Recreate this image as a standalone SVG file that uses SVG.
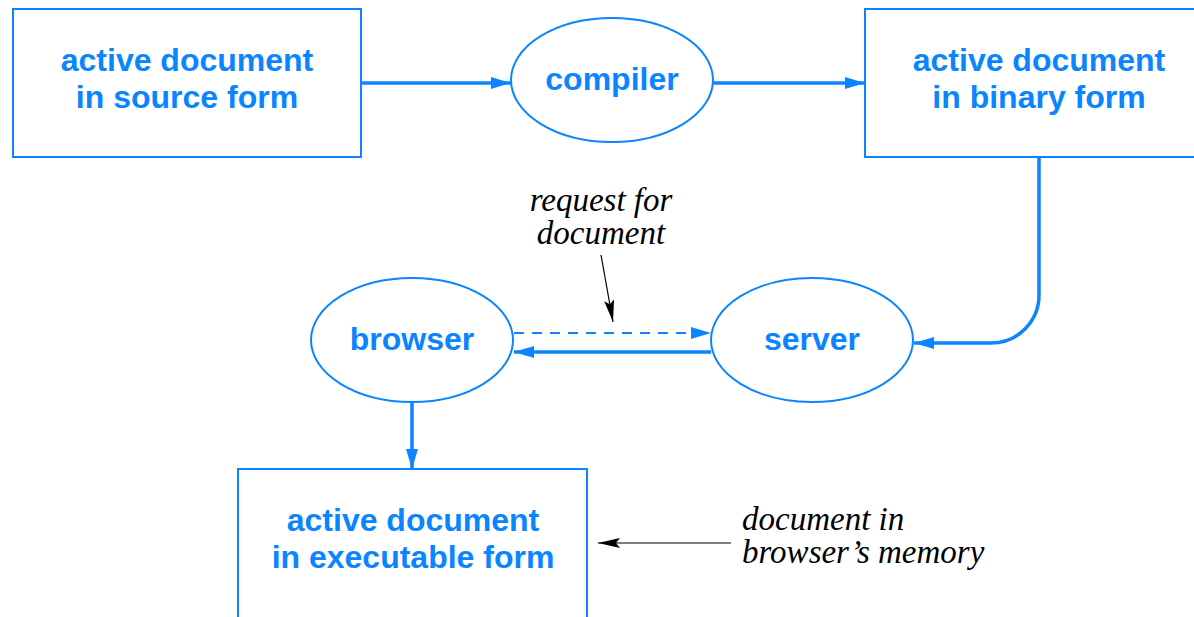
<svg xmlns="http://www.w3.org/2000/svg" width="1194" height="617" viewBox="0 0 1194 617">
<style>
.box{fill:none;stroke:#0a84ff;stroke-width:2}
.lbl{font-family:"Liberation Sans",Arial,sans-serif;font-weight:bold;font-size:32px;fill:#0a84ff;text-anchor:middle}
.note{font-family:"Liberation Serif","Times New Roman",serif;font-style:italic;font-size:33px;fill:#000}
.conn{fill:none;stroke:#0a84ff;stroke-width:3.5}
.dash{fill:none;stroke:#0a84ff;stroke-width:2;stroke-dasharray:10 8}
.thin{fill:none;stroke:#000;stroke-width:1.2}
</style>
<defs>
<marker id="ah" markerWidth="20" markerHeight="12" refX="20" refY="6" orient="auto" markerUnits="userSpaceOnUse"><path d="M0,0 L20,6 L0,12 Z" fill="#0a84ff"/></marker>
<marker id="ahk" markerWidth="22" markerHeight="10" refX="22" refY="5" orient="auto" markerUnits="userSpaceOnUse"><path d="M0,0 L22,5 L0,10 L4,5 Z" fill="#000"/></marker>
</defs>
<g id="source"><rect class="box" x="13" y="9" width="348" height="148"/><text class="lbl" x="187" y="71">active document</text><text class="lbl" x="187" y="108">in source form</text></g>
<g id="compiler"><ellipse class="box" cx="612" cy="80" rx="101" ry="62"/><text class="lbl" x="612" y="90">compiler</text></g>
<g id="binary"><rect class="box" x="865" y="9" width="340" height="148"/><text class="lbl" x="1039" y="71">active document</text><text class="lbl" x="1039" y="108">in binary form</text></g>
<g id="browser"><ellipse class="box" cx="412" cy="340" rx="101" ry="62"/><text class="lbl" x="412" y="350">browser</text></g>
<g id="server"><ellipse class="box" cx="812" cy="340" rx="101" ry="62"/><text class="lbl" x="812" y="350">server</text></g>
<g id="executable"><rect class="box" x="238" y="469" width="349" height="160"/><text class="lbl" x="413" y="531">active document</text><text class="lbl" x="413" y="568">in executable form</text></g>
<g id="notes">
<text class="note" x="601" y="211" text-anchor="middle">request for</text>
<text class="note" x="601" y="244" text-anchor="middle">document</text>
<text class="note" x="742" y="530">document in</text>
<text class="note" x="742" y="563">browser’s memory</text>
</g>
<g id="connectors">
<line class="conn" x1="361" y1="83" x2="511" y2="83" marker-end="url(#ah)"/>
<line class="conn" x1="713" y1="83" x2="865" y2="83" marker-end="url(#ah)"/>
<path class="conn" d="M1039,157 V295 A48,48 0 0 1 991,343 H914" marker-end="url(#ah)"/>
<line class="dash" x1="514" y1="333" x2="711" y2="333" marker-end="url(#ah)"/>
<line class="conn" x1="711" y1="352" x2="514" y2="352" marker-end="url(#ah)"/>
<line class="conn" x1="412" y1="402" x2="412" y2="469" marker-end="url(#ah)"/>
<line class="thin" x1="601" y1="255" x2="613" y2="322" marker-end="url(#ahk)"/>
<line class="thin" x1="731" y1="543" x2="598" y2="543" marker-end="url(#ahk)"/>
</g>
</svg>
